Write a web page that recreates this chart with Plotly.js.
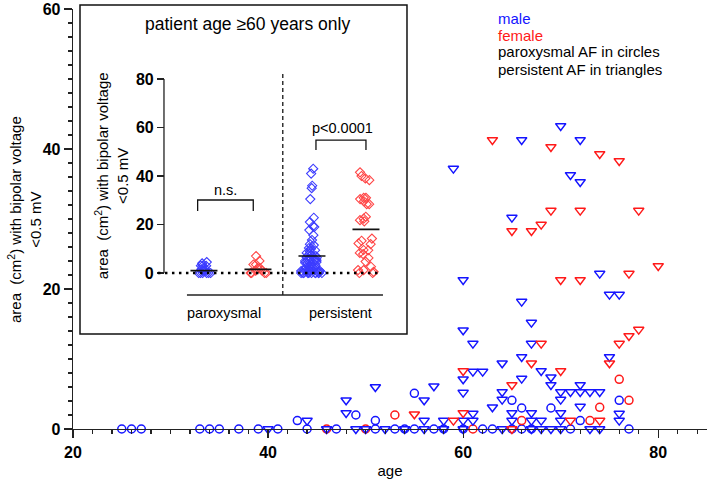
<!DOCTYPE html>
<html>
<head>
<meta charset="utf-8">
<script src="https://cdn.plot.ly/plotly-3.0.1.min.js"></script>
<style>html,body{margin:0;padding:0;background:#fff;}#chart{width:708px;height:485px;}</style>
</head>
<body>
<div id="chart"></div>
<script>
// ---------------- main scatter data (age, area) ----------------
const maleCircleAge = [25,26,27,33,34,35,37,39,41,43,44,47,49,51,51,53,54,55,55,57,58,60,62,63,65,65,66,66,67,69,71,72,76,77];
const maleCircleVal = [0,0,0,0,0,0,0,0,0,1.2,0,0,2.0,1.2,0,0,0,5.1,0,0,0,0,0,0,4.1,0,3.0,0,0,3.0,0,1.2,4.1,0];

const femaleCircleAge = [46,50,53,61,66,73,74,76,77];
const femaleCircleVal = [0,0,2.0,0,1.2,1.2,3.1,7.1,4.1];

const maleTriAge = [40,44,46,48,48,49,50,51,52,54,56,56,56,57,58,58,59,
  60,60,60,60,60,60,61,61,61,61,62,63,64,64,64,64,65,65,65,66,66,66,66,
  67,67,67,67,67,68,68,68,69,69,69,70,70,70,70,70,70,71,71,72,72,72,72,72,
  73,73,74,74,74,75,75,76,76,76];
const maleTriVal = [0,1.2,0,4.1,2.3,0,0,6.0,0,0,4.1,1.2,0,6.1,1.2,0,37.2,
  21.3,14.1,7.1,5.2,1.2,0,12.2,8.2,2.2,1.2,8.2,3.1,9.4,5.3,4.2,0,30.2,2.3,1.2,41.3,18.2,10.3,7.2,
  15.2,12.2,2.3,1.2,0,8.3,1.2,0,7.4,6.3,0,43.3,5.3,4.2,2.3,1.2,0,36.3,5.3,41.3,35.3,6.3,5.3,3.2,
  5.3,0,22.2,5.3,0,19.2,10.3,19.2,2.2,1.2];

const femaleTriAge = [55,59,60,60,63,65,65,65,67,67,68,68,69,69,70,70,71,72,72,74,74,75,76,76,77,77,78,78,80];
const femaleTriVal = [2.1,1.2,8.3,2.3,41.3,28.3,6.3,0,28.3,9.4,29.2,12.2,40.3,31.2,21.3,8.3,1.2,31.2,21.3,39.3,1.2,9.4,38.3,12.2,22.2,13.3,31.2,14.2,23.3];

// ---------------- inset data (patients >= 60 years) ----------------
const insetGroups = ['paroxysmal male','paroxysmal female','persistent male','persistent female'];
const insetParoxMale = [0,0,0,0,0,0,1,1,1,1.5,2,3,3,3,4,4.5];
const insetParoxFemale = [0,0,0,0,1,1,2,2,3.5,3.5,5,7];
const insetPersMale = [43,41,36,35,30.5,22.8,21,19.3,19,17.7,15.6,13.6,11.9,11.5,10.3,10,9.4,9,8.3,8,7.5,7,6.5,6.3,6,5.5,5.3,5.3,5.3,5.3,5,4.5,4.2,4,3.5,3.2,3,2.5,2.3,2.3,2.2,2,1.5,1.2,1.2,1.2,1,1,0.8,0.5,0.5,0,0,0,0,0,0,0,0,0,0,0];
const insetPersFemale = [41.5,40,39,38.3,31,31,30.5,29.6,28.4,28.4,23.2,22.4,21.8,21.3,14.2,13.3,12.2,11.9,9.5,9.4,8.3,7.8,6.2,4.7,2.6,1.2,1.2,0.5,0,0];
const insetMeans = [1.0, 1.5, 7.0, 18.0];
const insetCategories = ['paroxysmal','persistent'];

const xTicks = [20,40,60,80];
const yTicks = [0,20,40,60];
const insetYTicks = [0,20,40,60,80];
const legendLines = ['male','female','paroxysmal AF in circles','persistent AF in triangles'];

// ---------------- styles ----------------
const BLUE = 'rgb(20,20,255)', RED = 'rgb(255,25,25)';
const IBLUE = 'rgb(60,60,255)', IRED = 'rgb(255,70,70)';
const FONT = '"Liberation Sans", Arial, sans-serif';
const AX = '#222';

function mainTrace(x, y, sym, col, size) {
  return {type:'scatter', mode:'markers', x:x, y:y, cliponaxis:false, hoverinfo:'skip', showlegend:false,
    marker:{symbol:sym, size:size, color:col, line:{width:1.5, color:col}}};
}
const traces = [
  mainTrace(maleCircleAge, maleCircleVal, 'circle-open', BLUE, 8),
  mainTrace(femaleCircleAge, femaleCircleVal, 'circle-open', RED, 8),
  mainTrace(maleTriAge, maleTriVal, 'triangle-down-open', BLUE, 9),
  mainTrace(femaleTriAge, femaleTriVal, 'triangle-down-open', RED, 9)
];

const insetData = [insetParoxMale, insetParoxFemale, insetPersMale, insetPersFemale];
const insetColors = [IBLUE, IRED, IBLUE, IRED];
insetData.forEach((vals, i) => {
  traces.push({type:'box', xaxis:'x2', yaxis:'y2', x0:i, y:vals, name:insetGroups[i],
    boxpoints:'all', jitter:0.95, pointpos:0, width:0.5,
    fillcolor:'rgba(0,0,0,0)', line:{width:0, color:'rgba(0,0,0,0)'},
    marker:{symbol:'diamond-open', size:7, color:insetColors[i], line:{width:1.1, color:insetColors[i]}},
    hoverinfo:'skip', showlegend:false});
});
// mean bars
const mx = [], my = [];
insetMeans.forEach((m, i) => { mx.push(i-0.25, i+0.25, null); my.push(m, m, null); });
traces.push({type:'scatter', mode:'lines', xaxis:'x2', yaxis:'y2', x:mx, y:my,
  line:{color:'#111', width:1.6}, hoverinfo:'skip', showlegend:false});

const legendColors = [BLUE, RED, '#000', '#000'];
const legendY = [18, 35, 52, 69];   // pixel centres of the legend lines
const legendAnn = legendLines.map((t, i) => ({
  xref:'paper', yref:'paper', x:(496-73)/634, y:(429-legendY[i])/420, xanchor:'left', yanchor:'middle',
  showarrow:false, text:t, font:{size:15, family:FONT, color:legendColors[i]}
}));

const layout = {
  width:708, height:485,
  margin:{l:73, r:1, t:9, b:56},
  paper_bgcolor:'#fff', plot_bgcolor:'rgba(0,0,0,0)',
  font:{family:FONT, color:'#000', size:14},
  showlegend:false,
  boxmode:'overlay',
  xaxis:{range:[20,85], tickvals:xTicks, ticks:'outside', ticklen:8, tickwidth:1.3, tickcolor:AX,
    showline:true, linecolor:AX, linewidth:1.3, showgrid:false, zeroline:false,
    minor:{dtick:2, tick0:20, ticks:'outside', ticklen:4, tickwidth:1.2, tickcolor:AX, showgrid:false},
    tickfont:{size:16, weight:'bold', family:FONT, color:'#000'},
    title:{text:'age', font:{size:15, family:FONT, color:'#000'}, standoff:6}},
  yaxis:{range:[0,60], tickvals:yTicks, ticks:'outside', ticklen:8, tickwidth:1.3, tickcolor:AX,
    showline:true, linecolor:AX, linewidth:1.3, showgrid:false, zeroline:false,
    minor:{dtick:2, tick0:0, ticks:'outside', ticklen:4, tickwidth:1.2, tickcolor:AX, showgrid:false},
    tickfont:{size:16, weight:'bold', family:FONT, color:'#000'}},
  xaxis2:{domain:[0.134, 0.5126], range:[-0.852, 3.593], anchor:'y2', visible:false, fixedrange:true},
  yaxis2:{domain:[0.3483, 0.8333], range:[-4, 80], anchor:'free', position:0.1435,
    tickvals:insetYTicks, ticks:'outside', ticklen:7, tickwidth:1.3, tickcolor:AX,
    showline:false, showgrid:false, zeroline:false,
    tickfont:{size:16, weight:'bold', family:FONT, color:'#000'}},
  shapes:[
    {type:'rect', xref:'paper', yref:'paper', x0:0.01104, x1:0.5268, y0:0.2262, y1:1.0095,
      line:{color:'#111', width:1.5}, fillcolor:'rgba(0,0,0,0)'},
    {type:'line', xref:'paper', yref:'y2', x0:0.1435, x1:0.1435, y0:0, y1:80, line:{color:AX, width:1.3}},
    {type:'line', xref:'x2', yref:'y2', x0:-0.852, x1:3.26, y0:0, y1:0, line:{color:'#000', width:2.5, dash:'2.5px,4.5px'}},
    {type:'line', xref:'x2', yref:'paper', x0:1.46, x1:1.46, y0:0.319, y1:0.85, line:{color:'#000', width:1.2, dash:'4px,3px'}},
    {type:'line', xref:'x2', yref:'paper', x0:-0.315, x1:3.315, y0:0.319, y1:0.319, line:{color:AX, width:1.3}},
    {type:'path', xref:'x2', yref:'y2', path:'M -0.117,25.6 L -0.117,30.1 L 0.913,30.1 L 0.913,25.6', line:{color:'#111', width:1.3}},
    {type:'path', xref:'x2', yref:'y2', path:'M 2.074,50.7 L 2.074,54.8 L 3.0,54.8 L 3.0,50.7', line:{color:'#111', width:1.3}}
  ],
  annotations:[
    {xref:'paper', yref:'paper', x:-0.0773, y:0.5, xanchor:'center', yanchor:'middle', textangle:-90, showarrow:false,
      text:'area&nbsp; (cm<sup>2</sup>) with bipolar voltage<br>&lt;0.5 mV', font:{size:15, family:FONT, color:'#000'}},
    {xref:'paper', yref:'paper', x:0.06, y:0.602, xanchor:'center', yanchor:'middle', textangle:-90, showarrow:false,
      text:'area&nbsp; (cm<sup>2</sup>) with bipolar voltage<br>&lt;0.5 mV', font:{size:15, family:FONT, color:'#000'}},
    {xref:'paper', yref:'paper', x:0.276, y:0.964, xanchor:'center', yanchor:'middle', showarrow:false,
      text:'patient age \u226560 years only', font:{size:17.5, family:FONT, color:'#000'}},
    {xref:'x2', yref:'y2', x:0.407, y:34.2, xanchor:'center', yanchor:'middle', showarrow:false,
      text:'n.s.', font:{size:14.5, family:FONT, color:'#000'}},
    {xref:'x2', yref:'y2', x:2.565, y:59.8, xanchor:'center', yanchor:'middle', showarrow:false,
      text:'p&lt;0.0001', font:{size:14.5, family:FONT, color:'#000'}},
    {xref:'x2', yref:'paper', x:0.38, y:0.276, xanchor:'center', yanchor:'middle', showarrow:false,
      text:insetCategories[0], font:{size:14.5, family:FONT, color:'#000'}},
    {xref:'x2', yref:'paper', x:2.52, y:0.276, xanchor:'center', yanchor:'middle', showarrow:false,
      text:insetCategories[1], font:{size:14.5, family:FONT, color:'#000'}}
  ].concat(legendAnn)
};

Plotly.newPlot('chart', traces, layout, {staticPlot:true, displayModeBar:false});
</script>
</body>
</html>
